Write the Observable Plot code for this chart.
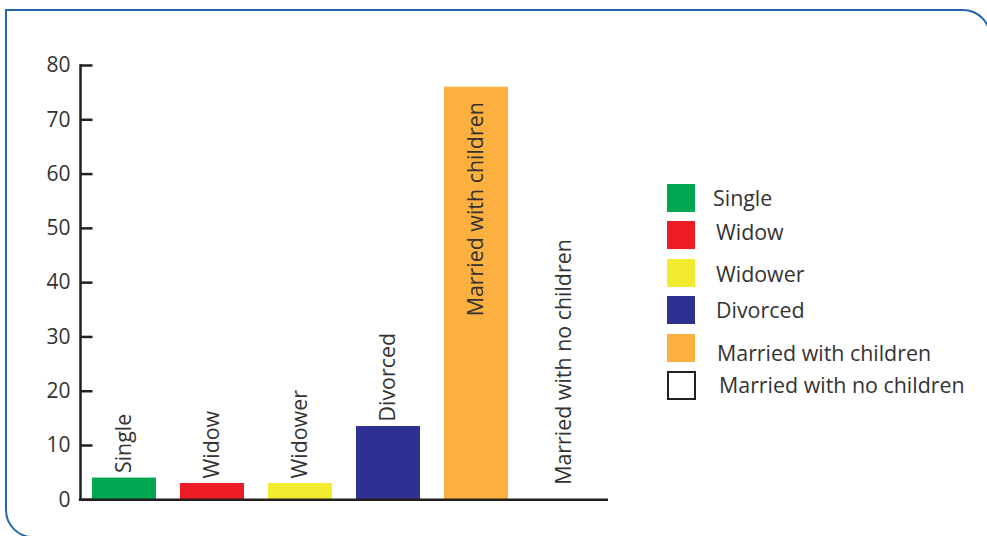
<!DOCTYPE html>
<html><head><meta charset="utf-8">
<script src="https://cdn.jsdelivr.net/npm/d3@7"></script>
<script src="https://cdn.jsdelivr.net/npm/@observablehq/plot@0.6"></script>
<style>
html,body{margin:0;padding:0;background:#fff;}
#wrap{position:relative;width:987px;height:536px;overflow:hidden;font-family:"Open Sans",sans-serif;}
#border{position:absolute;left:5px;top:9px;width:986px;height:529px;border:2.5px solid #2166ae;border-radius:0 28px 0 28px;box-sizing:border-box;}
#chart{position:absolute;left:0;top:0;}
#legend{position:absolute;left:667px;top:184px;}
.row{position:absolute;left:0;display:flex;align-items:center;height:28px;}
.sw{width:28px;height:28px;box-sizing:border-box;flex:none;}
.lab{position:absolute;white-space:nowrap;font-size:21.4px;line-height:1;color:#333;}
</style></head>
<body><div id="wrap"><div id="border"></div><div id="chart"></div><div id="legend"></div></div>
<script>
const categories = ["Single","Widow","Widower","Divorced","Married with children","Married with no children"];
const values = [4, 3, 3, 13.5, 76, 0];
const colors = ["#00a650","#ed1c24","#f2eb30","#2e3192","#fbb040","#ffffff"];
const yTicks = [0,10,20,30,40,50,60,70,80];

const data = categories.map((c, i) => ({category: c, value: values[i]}));
const ink = "#231f20";

const chart = Plot.plot({
  width: 987, height: 536,
  marginLeft: 80, marginRight: 379, marginTop: 65, marginBottom: 36.7,
  style: {fontFamily: "'Open Sans', sans-serif", fontSize: "21px", color: "#333", background: "transparent", overflow: "visible"},
  x: {domain: categories, paddingInner: 24/88, paddingOuter: 12/88, axis: null},
  y: {domain: [0, 80], axis: null, label: null},
  color: {domain: categories, range: colors},
  marks: [
    Plot.barY(data, {x: "category", y: "value", fill: "category"}),
    Plot.axisY(yTicks, {tickSize: 0, tickPadding: 10, fontSize: 21, fill: "#333", label: null}),
    Plot.ruleY(yTicks, {y: d => d, insetRight: 528 - 12.5, stroke: ink, strokeWidth: 2.5}),
    Plot.frame({anchor: "left", stroke: ink, strokeWidth: 2.5}),
    Plot.ruleY([0], {stroke: ink, strokeWidth: 2.5, insetLeft: -1.2}),
    Plot.text(data, {filter: d => d.value > 0 && d.value < 50, x: "category", y: "value", text: "category",
      rotate: -90, textAnchor: "start", lineAnchor: "middle", dy: -5, fill: "#333", fontSize: 21.4}),
    Plot.text(data, {filter: d => d.value >= 50, x: "category", y: "value", text: "category",
      rotate: -90, textAnchor: "end", lineAnchor: "middle", dy: 15, fill: "#333", fontSize: 21.4}),
    Plot.text(data, {filter: d => d.value === 0, x: "category", y: "value", text: "category",
      rotate: -90, textAnchor: "start", lineAnchor: "middle", dy: -15, fill: "#333", fontSize: 21.4})
  ]
});
document.getElementById("chart").appendChild(chart);

// small per-row nudges of the legend labels, as in the original artwork
const labelDx = [46, 49, 49, 49, 50, 52];
const labelDy = [0, -3, 1, 0, 5, 0];
const legend = document.getElementById("legend");
categories.forEach((c, i) => {
  const row = document.createElement("div");
  row.className = "row";
  row.style.top = (i * 37.4) + "px";
  const sw = document.createElement("div");
  sw.className = "sw";
  sw.style.background = colors[i];
  if (values[i] === 0) { sw.style.border = "2.5px solid " + ink; sw.style.width = "29px"; sw.style.height = "29px"; }
  const lab = document.createElement("span");
  lab.className = "lab";
  lab.style.left = labelDx[i] + "px";
  lab.style.top = (3 + labelDy[i]) + "px";
  lab.textContent = c;
  row.appendChild(sw);
  row.appendChild(lab);
  legend.appendChild(row);
});
</script>
</body></html>
